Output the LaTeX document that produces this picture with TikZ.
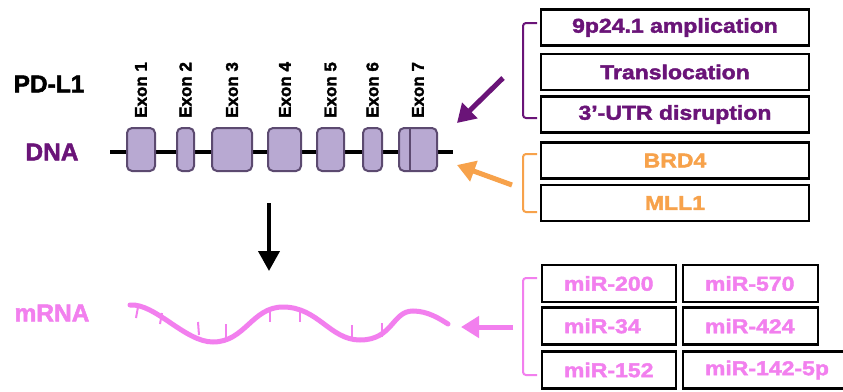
\documentclass[tikz,border=0pt]{standalone}
\usepackage{fontspec}
\setmainfont{Liberation Sans}
\newfontfamily\heavy{Liberation Sans Bold}[FakeBold=2]
\newfontfamily\boxfont{Liberation Sans Bold}[FakeStretch=1.15, FakeBold=2]
\usetikzlibrary{arrows.meta}

\definecolor{dpurple}{HTML}{6A1478}
\definecolor{orng}{HTML}{F7A24B}
\definecolor{pnk}{HTML}{F27FEE}
\definecolor{exfill}{HTML}{B8A9D2}
\definecolor{exdraw}{HTML}{5C4A70}

\tikzset{
  infobox/.style={draw=black, line width=2.5pt, minimum height=36, inner sep=0pt,
    font=\boxfont\fontsize{20}{24}\selectfont},
  mirbox/.style={draw=black, line width=2.5pt, minimum height=37, inner xsep=22pt, inner ysep=0pt,
    align=left, text=pnk, font=\boxfont\fontsize{20}{24}\selectfont},
  exon/.style={draw=exdraw, fill=exfill, line width=2pt, rounded corners=5pt},
  exonlabel/.style={rotate=90, anchor=west, inner sep=0pt,
    font=\heavy\fontsize{17}{20}\selectfont},
  rowlabel/.style={inner sep=0pt, font=\heavy\fontsize{24.5}{28}\selectfont},
  bracket/.style={line width=2pt, rounded corners=3pt},
  fatarrow/.style={line width=5pt, -{Triangle[length=18pt, width=21pt]}},
  tick/.style={pnk, line width=2pt}
}

\begin{document}
\begin{tikzpicture}[x=1pt, y=-1pt]
\clip (0,0) rectangle (843,391);
\fill[white] (0,0) rectangle (843,391);

% row labels
\node[rowlabel] (pdl1) at (49,84) {PD-L1};
\node[rowlabel, text=dpurple] (dna) at (52,152) {DNA};
\node[rowlabel, text=pnk] (mrna) at (52,313) {mRNA};

% gene backbone
\coordinate (dnaL) at (110,152);
\coordinate (dnaR) at (453,152);
\draw[line width=4pt] (dnaL) -- (dnaR);

% exons
\draw[exon] (127,128) rectangle (155,171);
\draw[exon] (177,128) rectangle (194,171);
\draw[exon] (212,128) rectangle (252,171);
\draw[exon] (268,128) rectangle (301,171);
\draw[exon] (317,128) rectangle (344,171);
\draw[exon] (363,128) rectangle (382,171);
\draw[exon] (399,128) rectangle (437,171);
\draw[exdraw, line width=2pt] (410,128) -- (410,171);

% exon labels
\node[exonlabel] (e1) at (141,118) {Exon 1};
\node[exonlabel] (e2) at (185.5,118) {Exon 2};
\node[exonlabel] (e3) at (232,118) {Exon 3};
\node[exonlabel] (e4) at (285,118) {Exon 4};
\node[exonlabel] (e5) at (330.5,118) {Exon 5};
\node[exonlabel] (e6) at (372.5,118) {Exon 6};
\node[exonlabel] (e7) at (418,118) {Exon 7};

% transcription arrow
\coordinate (tA) at (269,203);
\coordinate (tB) at (269,271);
\draw[line width=4pt, -{Triangle[length=20pt, width=21pt]}] (tA) -- (tB);

% mRNA strand
\draw[pnk, line width=5pt, line cap=round]
  (130,305) .. controls (155,303) and (185,342) .. (213,342)
  .. controls (245,342) and (252,307) .. (283,307)
  .. controls (318,307) and (330,340) .. (360,340)
  .. controls (393,340) and (392,311) .. (413,311)
  .. controls (428,311) and (440,319) .. (448,324);
\draw[tick] (138,307) -- (136,318);
\draw[tick] (162,313) -- (160,324);
\draw[tick] (199,335) -- (198,322);
\draw[tick] (226,339) -- (226,324);
\draw[tick] (270,309) -- (270,322);
\draw[tick] (300,308) -- (300,322);
\draw[tick] (352,338) -- (352,325);
\draw[tick] (382,337) -- (382,323);

% genomic alterations
\node[infobox, minimum width=268, text=dpurple] (amp) at (675,27.5) {9p24.1 amplication};
\node[infobox, minimum width=268, text=dpurple] (trans) at (675,72) {Translocation};
\node[infobox, minimum width=268, text=dpurple] (utr) at (675,114.5) {3’-UTR disruption};
\draw[bracket, dpurple] (537,23) -- (523,23) -- (523,118) -- (537,118);
\coordinate (pA) at (503,78);
\coordinate (pB) at (457,123);
\draw[fatarrow, dpurple] (pA) -- (pB);

% transcriptional regulators
\node[infobox, minimum width=268, text=orng] (brd) at (675,160.5) {BRD4};
\node[infobox, minimum width=268, text=orng] (mll) at (675,203) {MLL1};
\draw[bracket, orng] (537,154) -- (523,154) -- (523,212) -- (537,212);
\coordinate (oA) at (512,185);
\coordinate (oB) at (457,165);
\draw[fatarrow, orng] (oA) -- (oB);

% microRNAs
\node[mirbox, text width=90] (m200) at (609,283.5) {miR-200};
\node[mirbox, text width=91] (m570) at (750.5,283.5) {miR-570};
\node[mirbox, text width=90] (m34) at (609,326) {miR-34};
\node[mirbox, text width=91] (m424) at (750.5,326) {miR-424};
\node[mirbox, text width=90] (m152) at (609,370) {miR-152};
\node[mirbox, text width=130] (m142) at (770,370) {miR-142-5p};
\draw[bracket, pnk] (537,278) -- (523,278) -- (523,375) -- (537,375);
\coordinate (kA) at (513,327);
\coordinate (kB) at (461,327);
\draw[fatarrow, pnk] (kA) -- (kB);
\end{tikzpicture}
\end{document}
